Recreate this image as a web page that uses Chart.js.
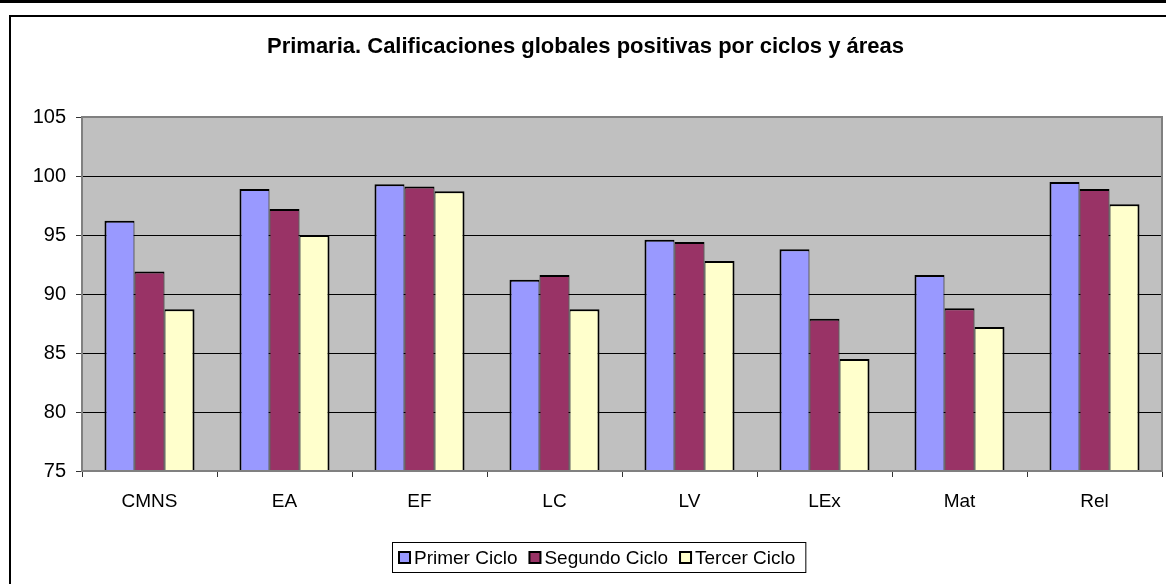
<!DOCTYPE html>
<html>
<head>
<meta charset="utf-8">
<script src="https://cdn.jsdelivr.net/npm/chart.js@4/dist/chart.umd.min.js"></script>
<style>
  html, body { margin: 0; padding: 0; background: #fff; }
  #wrap { position: relative; width: 1166px; height: 584px; overflow: hidden; }
  #topbar { position: absolute; left: 0; top: 0; width: 1166px; height: 3px; background: #000; }
  #frame { position: absolute; left: 9px; top: 15px; width: 1170px; height: 600px;
           border-left: 2px solid #000; border-top: 2px solid #000; }
  #chart { position: absolute; left: 0; top: 0; }
</style>
</head>
<body>
<div id="wrap">
  <div id="topbar"></div>
  <div id="frame"></div>
  <canvas id="chart" width="1166" height="584"></canvas>
</div>
<script>
// Chart data
const categories = ['CMNS', 'EA', 'EF', 'LC', 'LV', 'LEx', 'Mat', 'Rel'];
const primerCiclo = [96.2, 98.9, 99.3, 91.2, 94.6, 93.8, 91.6, 99.5];
const segundoCiclo = [91.9, 97.2, 99.1, 91.6, 94.4, 87.9, 88.8, 98.9];
const tercerCiclo = [88.7, 95.0, 98.7, 88.7, 92.8, 84.5, 87.2, 97.6];
const yTicks = [75, 80, 85, 90, 95, 100, 105];

const FONT = "'Liberation Sans', Arial, sans-serif";

// Grey plot background + grey plot border
const plotArea = {
  id: 'plotArea',
  beforeDatasetsDraw(chart) {
    const { ctx, chartArea: a } = chart;
    ctx.save();
    ctx.fillStyle = '#C0C0C0';
    ctx.fillRect(a.left, a.top, a.right - a.left, a.bottom - a.top);
    // inner grid lines on top of the fill
    const y = chart.scales.y;
    ctx.strokeStyle = '#000';
    ctx.lineWidth = 1;
    yTicks.forEach(v => {
      if (v === 75 || v === 105) return;
      const py = Math.round(y.getPixelForValue(v)) + 0.5;
      ctx.beginPath();
      ctx.moveTo(a.left, py);
      ctx.lineTo(a.right, py);
      ctx.stroke();
    });
    ctx.restore();
  },
  afterDatasetsDraw(chart) {
    const { ctx, chartArea: a } = chart;
    ctx.save();
    ctx.strokeStyle = '#808080';
    ctx.lineWidth = 2;
    ctx.strokeRect(a.left, a.top, a.right - a.left, a.bottom - a.top);
    ctx.restore();
  }
};

// Boxed legend under the chart
const boxLegend = {
  id: 'boxLegend',
  afterDraw(chart) {
    const ctx = chart.ctx;
    const sw = 11, gapText = 4, gapItem = 12, padL = 7, padR = 10;
    ctx.save();
    ctx.font = '19px ' + FONT;
    const items = chart.data.datasets.map(ds => ({
      label: ds.label, color: ds.backgroundColor, w: ctx.measureText(ds.label).width
    }));
    const content = items.reduce((s, it) => s + sw + gapText + it.w, 0) + gapItem * (items.length - 1);
    const boxW = content + padL + padR;
    const cx = 599, top = 542, h = 30;
    const left = Math.round(cx - boxW / 2);
    ctx.fillStyle = '#fff';
    ctx.fillRect(left, top, boxW, h);
    ctx.strokeStyle = '#000';
    ctx.lineWidth = 1;
    ctx.strokeRect(left + 0.5, top + 0.5, boxW, h);
    let x = left + padL;
    const cy = top + h / 2 + 0.5;
    items.forEach(it => {
      ctx.fillStyle = it.color;
      ctx.fillRect(x, cy - sw / 2, sw, sw);
      ctx.lineWidth = 2;
      ctx.strokeRect(x, cy - sw / 2, sw, sw);
      x += sw + gapText;
      ctx.fillStyle = '#000';
      ctx.textBaseline = 'middle';
      ctx.fillText(it.label, x, cy + 1);
      x += it.w + gapItem;
    });
    ctx.restore();
  }
};

new Chart(document.getElementById('chart'), {
  type: 'bar',
  data: {
    labels: categories,
    datasets: [
      { label: 'Primer Ciclo', data: primerCiclo, backgroundColor: '#9999FF',
        borderColor: '#000', borderWidth: { top: 2, left: 2, right: 1, bottom: 0 } },
      { label: 'Segundo Ciclo', data: segundoCiclo, backgroundColor: '#993366',
        borderColor: '#000', borderWidth: { top: 2, left: 1, right: 1, bottom: 0 } },
      { label: 'Tercer Ciclo', data: tercerCiclo, backgroundColor: '#FFFFCC',
        borderColor: '#000', borderWidth: { top: 2, left: 1, right: 2, bottom: 0 } }
    ]
  },
  options: {
    responsive: false,
    animation: false,
    layout: { padding: { left: 9, right: 4, top: 0, bottom: 0 } },
    datasets: { bar: { categoryPercentage: 0.667, barPercentage: 1, borderSkipped: false } },
    plugins: {
      legend: { display: false },
      tooltip: { enabled: false },
      title: {
        display: true,
        text: 'Primaria. Calificaciones globales positivas por ciclos y áreas',
        color: '#000',
        font: { family: FONT, size: 22, weight: 'bold' },
        padding: { top: 34, bottom: 56.6 }
      }
    },
    scales: {
      x: {
        offset: true,
        grid: { offset: true, drawOnChartArea: false, drawTicks: true, tickLength: 6, tickColor: '#333' },
        border: { display: true, color: '#808080', width: 2 },
        ticks: { color: '#000', font: { family: FONT, size: 19 }, padding: 13, maxRotation: 0 },
        afterFit(scale) { scale.height = 113; }
      },
      y: {
        min: 75,
        max: 105,
        afterBuildTicks(scale) { scale.ticks = yTicks.map(v => ({ value: v })); },
        grid: { drawOnChartArea: false, drawTicks: true, tickLength: 6, tickColor: '#333' },
        border: { display: true, color: '#808080', width: 2 },
        ticks: { color: '#000', font: { family: FONT, size: 20 }, padding: 10 },
        afterFit(scale) { scale.width = 73; }
      }
    }
  },
  plugins: [plotArea, boxLegend]
});
</script>
</body>
</html>
